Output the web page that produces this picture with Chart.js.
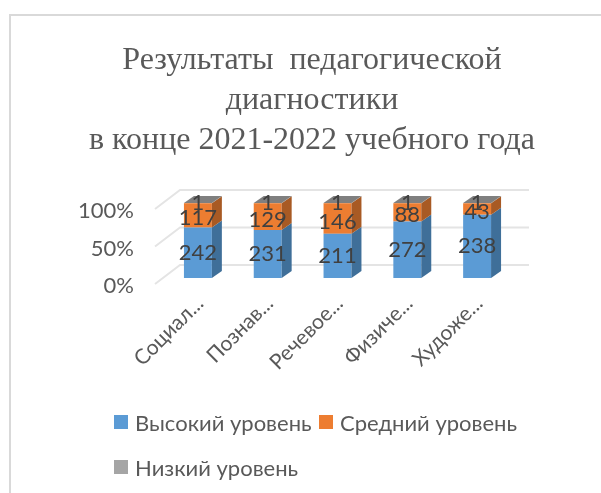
<!DOCTYPE html>
<html>
<head>
<meta charset="utf-8">
<script src="https://cdn.jsdelivr.net/npm/chart.js@4"></script>
<style>
  body { margin: 0; background: #fff; }
  #wrap { position: relative; width: 601px; height: 493px; overflow: hidden; }
  #frame { position: absolute; left: 9px; top: 14px; right: -4px; bottom: -4px; border: 2px solid #d9d9d9; }
  canvas { position: absolute; left: 0; top: 0; }
  .item { position: absolute; color: #595959; font: 22px Lato, "Noto Sans", sans-serif; line-height: 24px; white-space: nowrap; }
  .item i { position: absolute; left: -21px; top: 4px; width: 14px; height: 14px; }
</style>
</head>
<body>
<div id="wrap">
  <div id="frame"></div>
  <canvas id="myChart" width="601" height="493"></canvas>
  <div id="legend"></div>
</div>
<script>
const categories = ['Социал...', 'Познав...', 'Речевое...', 'Физиче...', 'Художе...']
const seriesNames = ['Высокий уровень', 'Средний уровень', 'Низкий уровень']
const highLevel = [242, 231, 211, 272, 238]
const midLevel = [117, 129, 146, 88, 43]
const lowLevel = [1, 1, 1, 1, 1]
const titleLines = ['Результаты  педагогической', 'диагностики', 'в конце 2021-2022 учебного года']

const counts = [highLevel, midLevel, lowLevel]
const colors = ['#5b9bd5', '#ed7d31', '#a5a5a5']
const sideColors = ['#3f6f99', '#a85a24', '#8a8a8a']
const fontFamily = 'Lato, "Noto Sans", sans-serif'
const depthX = 10, depthY = 7

// share of each category total, same as a 100% stacked column
const share = (arr) => arr.map((v, i) => v / (highLevel[i] + midLevel[i] + lowLevel[i]) * 100)

const box3d = {
    id: 'box3d',
    beforeDatasetsDraw(chart) {
        const { ctx, chartArea, scales } = chart
        ctx.save()
        ctx.strokeStyle = '#e4e4e4'
        ctx.lineWidth = 2
        scales.y.ticks.forEach(t => {
            const y = scales.y.getPixelForValue(t.value)
            ctx.beginPath()
            ctx.moveTo(chartArea.left - 8, y + 6)
            ctx.lineTo(chartArea.left + 17, y - 13)
            ctx.lineTo(chartArea.right + 17, y - 13)
            ctx.stroke()
        })
        ctx.restore()
    },
    afterDatasetsDraw(chart) {
        const { ctx } = chart
        ctx.save()
        chart.data.datasets.forEach((ds, d) => {
            chart.getDatasetMeta(d).data.forEach(bar => {
                const half = bar.width / 2
                const right = bar.x + half
                ctx.fillStyle = sideColors[d]
                ctx.beginPath()
                ctx.moveTo(right, bar.y)
                ctx.lineTo(right + depthX, bar.y - depthY)
                ctx.lineTo(right + depthX, bar.base - depthY)
                ctx.lineTo(right, bar.base)
                ctx.fill()
                if (d === chart.data.datasets.length - 1) {
                    ctx.fillStyle = '#7f7f7f'
                    ctx.beginPath()
                    ctx.moveTo(bar.x - half, bar.y)
                    ctx.lineTo(bar.x - half + depthX, bar.y - depthY)
                    ctx.lineTo(right + depthX, bar.y - depthY)
                    ctx.lineTo(right, bar.y)
                    ctx.fill()
                }
            })
        })
        ctx.fillStyle = '#404040'
        ctx.font = '22px ' + fontFamily
        ctx.textAlign = 'center'
        ctx.textBaseline = 'middle'
        counts.forEach((arr, d) => {
            chart.getDatasetMeta(d).data.forEach((bar, i) => {
                const mid = (bar.y + bar.base) / 2
                ctx.fillText(arr[i], bar.x, mid + (d === 1 ? 3 : 0))
            })
        })
        ctx.restore()
    }
}

new Chart(document.getElementById('myChart'), {
    type: 'bar',
    data: {
        labels: categories,
        datasets: seriesNames.map((name, d) => ({
            label: name,
            data: share(counts[d]),
            backgroundColor: colors[d],
            barPercentage: 0.4,
            categoryPercentage: 1
        }))
    },
    options: {
        responsive: false,
        animation: false,
        layout: { padding: { left: 23, right: 0, top: 0, bottom: 0 } },
        plugins: {
            legend: { display: false },
            tooltip: { enabled: false },
            title: {
                display: true,
                text: titleLines,
                color: '#595959',
                font: { family: '"Liberation Serif", serif', size: 32, weight: 'normal', lineHeight: 40 / 32 },
                padding: { top: 41, bottom: 42 }
            }
        },
        scales: {
            x: {
                stacked: true,
                grid: { display: false },
                border: { display: false },
                afterFit(axis) { axis.height = 215 },
                ticks: {
                    color: '#595959',
                    font: { family: fontFamily, size: 21 },
                    minRotation: 45,
                    maxRotation: 45,
                    autoSkip: false,
                    labelOffset: 2,
                    padding: 5
                }
            },
            y: {
                stacked: true,
                min: 0,
                max: 100,
                grid: { display: false },
                border: { display: false },
                afterFit(axis) { axis.width = 140 },
                ticks: {
                    stepSize: 50,
                    color: '#595959',
                    font: { family: fontFamily, size: 22 },
                    padding: 21,
                    labelOffset: 8,
                    callback: v => v + '%'
                }
            },
            // empty axis, only keeps the plot clear of the right side
            spacer: {
                position: 'right',
                grid: { display: false },
                border: { display: false },
                ticks: { display: false },
                afterFit(axis) { axis.width = 89 }
            }
        }
    },
    plugins: [box3d]
})

// the legend wraps after two items in the original, so it is built by hand
const legendSpots = [[135, 411], [340, 411], [135, 456]]
seriesNames.forEach((name, d) => {
    const el = document.createElement('div')
    el.className = 'item'
    el.style.left = legendSpots[d][0] + 'px'
    el.style.top = legendSpots[d][1] + 'px'
    el.innerHTML = '<i style="background:' + colors[d] + '"></i>' + name
    document.getElementById('legend').appendChild(el)
})
</script>
</body>
</html>
